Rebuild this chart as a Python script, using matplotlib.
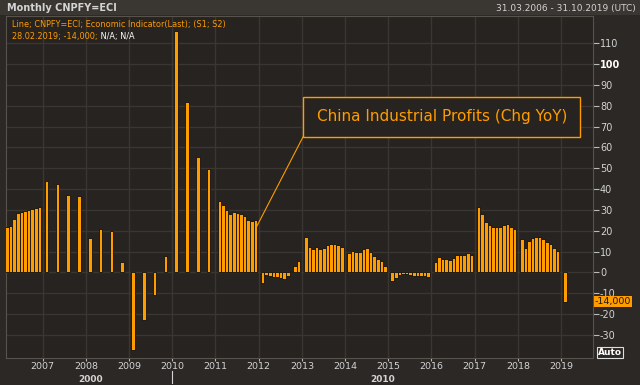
import matplotlib
matplotlib.use('Agg')
import matplotlib.pyplot as plt
import matplotlib.transforms as mtransforms
from matplotlib.patches import Rectangle

# ---- data (monthly, YoY %) ----
months = (
    ["2006-%02d" % m for m in range(3, 13)]
    + ["2007-02", "2007-05", "2007-08", "2007-11",
       "2008-02", "2008-05", "2008-08", "2008-11",
       "2009-02", "2009-05", "2009-08", "2009-11",
       "2010-02", "2010-05", "2010-08", "2010-11"]
    + ["%d-%02d" % (y, m) for y in range(2011, 2019) for m in range(2, 13)]
    + ["2019-02"]
)
values = [
    21.6, 22.1, 25.6, 28.5, 28.8, 29.3, 29.9, 30.4, 30.9, 31.2,
    44.0, 42.5, 37.3, 36.9,
    16.6, 21.1, 19.7, 5.1,
    -37.3, -23.0, -10.7, 8.0,
    116.0, 82.0, 55.2, 49.6,
    34.4, 32.5, 29.9, 28.2, 29.0, 28.6, 28.2, 27.0, 25.4, 24.7, 25.4,
    -5.2, -1.3, -1.6, -2.4, -2.2, -2.7, -3.1, -1.8, 0.5, 3.0, 5.3,
    17.2, 12.1, 11.4, 12.3, 11.1, 11.6, 13.1, 13.5, 13.7, 13.2, 12.2,
    9.4, 10.1, 9.6, 9.8, 11.4, 11.9, 10.0, 8.0, 6.7, 5.3, 3.3,
    -4.2, -2.7, -1.3, -0.8, -0.7, -1.0, -1.9, -1.7, -1.9, -1.9, -2.3,
    4.8, 7.4, 6.5, 6.4, 6.2, 6.9, 8.4, 8.4, 8.6, 9.4, 8.5,
    31.5, 28.3, 24.4, 22.7, 22.0, 21.6, 21.6, 22.8, 23.3, 21.9, 21.0,
    16.1, 11.6, 15.0, 16.5, 17.2, 17.1, 16.2, 14.7, 13.6, 11.8, 10.3,
    -14.0,
]
year_ticks = list(range(2007, 2020))
y_ticks = list(range(-30, 111, 10))
decade_labels = ["2000", "2010"]
decade_centers = [2008.1, 2014.87]
title_left = "Monthly CNPFY=ECI"
title_right = "31.03.2006 - 31.10.2019 (UTC)"
legend_line1 = "Line; CNPFY=ECI; Economic Indicator(Last); (S1; S2)"
legend_line2a = "28.02.2019; -14,000;"
legend_line2b = " N/A; N/A"
annotation = "China Industrial Profits (Chg YoY)"
last_label = "-14,000"

# ---- style ----
BG_OUT = "#2b2825"
BG_PLOT = "#262320"
GRID = "#3a3632"
ORANGE = "#ff9c00"
TXT = "#d4d4d4"

x = [int(m[:4]) + (int(m[5:7]) - 1) / 12 + 0.006 for m in months]

fig = plt.figure(figsize=(6.4, 3.85), dpi=100)
fig.patch.set_facecolor(BG_OUT)
# title strip
fig.patches.append(Rectangle((0, 1 - 15 / 385), 1, 15 / 385, transform=fig.transFigure,
                             facecolor="#3a3632", edgecolor="none", zorder=0))
fig.text(7 / 640, 1 - 8 / 385, title_left, color=TXT, fontsize=7, fontweight="bold",
         va="center", ha="left")
fig.text(636 / 640, 1 - 8 / 385, title_right, color=TXT, fontsize=6.5,
         va="center", ha="right")

ax = fig.add_axes([6 / 640, 1 - 357.5 / 385, (593 - 6) / 640, (357.5 - 16) / 385])
ax.set_facecolor(BG_PLOT)
ax.bar(x, values, width=1.0 / 12, color=ORANGE, edgecolor="#111111", linewidth=0.6, zorder=3)
ax.set_xlim(2006.15, 2019.74)
ax.set_ylim(-40.8, 123.1)

ax.set_xticks(year_ticks)
ax.set_xticklabels([str(y) for y in year_ticks])
ax.set_yticks(y_ticks)
ax.set_yticklabels([str(v) for v in y_ticks])
ax.yaxis.tick_right()
ax.grid(True, color=GRID, linewidth=1.0, zorder=0)
ax.tick_params(axis="y", colors="#bbbbbb", labelcolor=TXT, labelsize=7, length=4, width=0.8, pad=1)
ax.tick_params(axis="x", colors="#bbbbbb", labelcolor=TXT, labelsize=6.8, length=2, width=0.8, pad=1)
for lab in ax.get_yticklabels():
    if lab.get_text() == "100":
        lab.set_fontweight("bold")
        lab.set_color("#ffffff")
for sp in ax.spines.values():
    sp.set_color("#57524b")
    sp.set_linewidth(0.8)

# decade labels
trans_x = mtransforms.blended_transform_factory(ax.transData, ax.transAxes)
for dl, dp in zip(decade_labels, decade_centers):
    ax.text(dp, -0.063, dl, transform=trans_x, ha="center", va="center",
            fontsize=6.5, fontweight="bold", color=TXT)
ax.plot([2010, 2010], [-0.04, -0.075], transform=trans_x, color=TXT, lw=0.8, clip_on=False)

# legend text
t1 = ax.text(6 / 587, 1 - 9 / 341.5, legend_line1, transform=ax.transAxes, color=ORANGE,
             fontsize=5.9, va="center", ha="left", zorder=5)
t2 = ax.text(6 / 587, 1 - 20 / 341.5, legend_line2a, transform=ax.transAxes, color=ORANGE,
             fontsize=5.9, va="center", ha="left", zorder=5)
ax.annotate(legend_line2b, xy=(1, 0.5), xycoords=t2, va="center", ha="left",
            color="#ffffff", fontsize=5.9, zorder=5)

# annotation box
box_x0, box_x1, box_y0, box_y1 = 2013.03, 2019.45, 65.2, 84.1
ax.add_patch(Rectangle((box_x0, box_y0), box_x1 - box_x0, box_y1 - box_y0,
                       facecolor=BG_PLOT, edgecolor=ORANGE, linewidth=1.0, zorder=6))
ax.text((box_x0 + box_x1) / 2, (box_y0 + box_y1) / 2, annotation, color=ORANGE,
        fontsize=11, ha="center", va="center", zorder=7)
ax.plot([2011.95, box_x0], [21.9, box_y0], color=ORANGE, lw=0.8, zorder=5)

# last value label
trans_y = mtransforms.blended_transform_factory(ax.transAxes, ax.transData)
ax.text(1.003, values[-1], last_label, transform=trans_y, ha="left", va="center",
        fontsize=6.8, color="#1a1a1a", zorder=8, clip_on=False,
        bbox=dict(boxstyle="square,pad=0.1", facecolor=ORANGE, edgecolor="none"))

# Auto box
fig.text(610 / 640, 1 - 352.5 / 385, "Auto", ha="center", va="center", fontsize=6.5,
         fontweight="bold", color="#ffffff",
         bbox=dict(boxstyle="square,pad=0.12", facecolor="#2b2825", edgecolor="#dddddd", linewidth=0.8))

fig.savefig("out.png", dpi=100, facecolor=fig.get_facecolor())
